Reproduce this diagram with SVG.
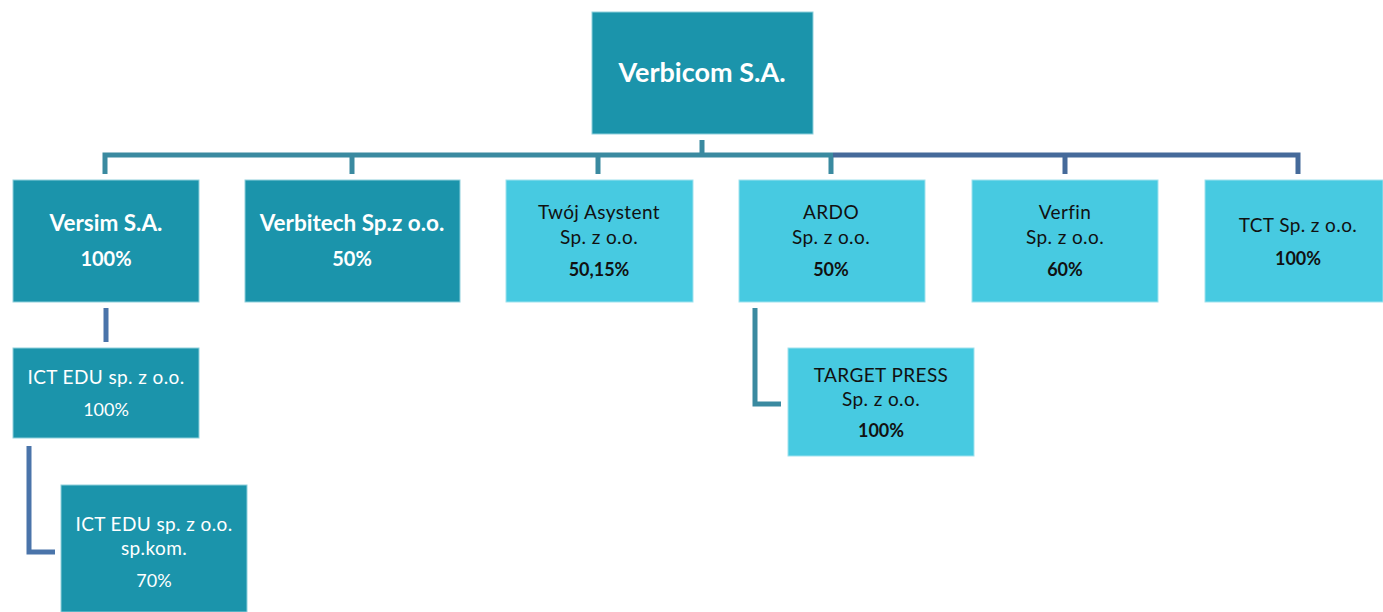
<svg xmlns="http://www.w3.org/2000/svg" width="1383" height="612" viewBox="0 0 1383 612">
<style>
.dark{fill:#1b94ab;stroke:#8fd0dc;stroke-width:1}
.light{fill:#47cae1;stroke:#9fe2ee;stroke-width:1}
text{font-family:Lato,"Open Sans","Liberation Sans",sans-serif;text-anchor:middle}
.w{fill:#ffffff}
.k{fill:#111111}
.b{font-weight:bold}
.n{font-size:19px;letter-spacing:0.4px}
.p{font-size:18px;font-weight:bold}
.c1{fill:none;stroke:#3a8aa0;stroke-width:5}
.c2{fill:none;stroke:#456a9a;stroke-width:5}
.c3{fill:none;stroke:#4a74aa;stroke-width:5}
</style>
<g id="connectors">
<path class="c1" d="M702 140 V155 M105 174 V155 H833 M352 155 V174 M598 155 V174 M831 155 V174"/>
<path class="c2" d="M833 155 H1298 V174 M1065 155 V174"/>
<path class="c3" d="M106 308 V342 M29 446 V552 H55"/>
<path class="c1" d="M755 308 V404 H781"/>
</g>
<g id="verbicom"><rect class="dark" x="592" y="12" width="221" height="122"/><text class="w b" x="702" y="82" font-size="27">Verbicom S.A.</text></g>
<g id="versim"><rect class="dark" x="13" y="180" width="186" height="122"/><text class="w b" x="106" y="231" font-size="22.5">Versim S.A.</text><text class="w b" x="106" y="266" font-size="20">100%</text></g>
<g id="verbitech"><rect class="dark" x="245" y="180" width="215" height="122"/><text class="w b" x="352" y="231" font-size="22.5">Verbitech Sp.z o.o.</text><text class="w b" x="352" y="266" font-size="20">50%</text></g>
<g id="twoj"><rect class="light" x="506" y="180" width="187" height="122"/><text class="k n" x="599" y="219">Twój Asystent</text><text class="k n" x="599" y="244">Sp. z o.o.</text><text class="k p" x="599" y="276">50,15%</text></g>
<g id="ardo"><rect class="light" x="739" y="180" width="186" height="122"/><text class="k n" x="831" y="219">ARDO</text><text class="k n" x="831" y="244">Sp. z o.o.</text><text class="k p" x="831" y="276">50%</text></g>
<g id="verfin"><rect class="light" x="972" y="180" width="186" height="122"/><text class="k n" x="1065" y="219">Verfin</text><text class="k n" x="1065" y="244">Sp. z o.o.</text><text class="k p" x="1065" y="276">60%</text></g>
<g id="tct"><rect class="light" x="1205" y="180" width="178" height="122"/><text class="k n" x="1298" y="232">TCT Sp. z o.o.</text><text class="k p" x="1298" y="265">100%</text></g>
<g id="ictedu"><rect class="dark" x="13" y="348" width="186" height="90"/><text class="w n" x="106" y="384" font-size="20">ICT EDU sp. z o.o.</text><text class="w" x="106" y="416" font-size="18">100%</text></g>
<g id="ictedu-kom"><rect class="dark" x="61" y="485" width="186" height="127"/><text class="w n" x="154" y="531" font-size="20">ICT EDU sp. z o.o.</text><text class="w n" x="154" y="555" font-size="20">sp.kom.</text><text class="w" x="154" y="587" font-size="18">70%</text></g>
<g id="target"><rect class="light" x="788" y="348" width="186" height="108"/><text class="k n" x="881" y="382">TARGET PRESS</text><text class="k n" x="881" y="406">Sp. z o.o.</text><text class="k p" x="881" y="437">100%</text></g>
</svg>
